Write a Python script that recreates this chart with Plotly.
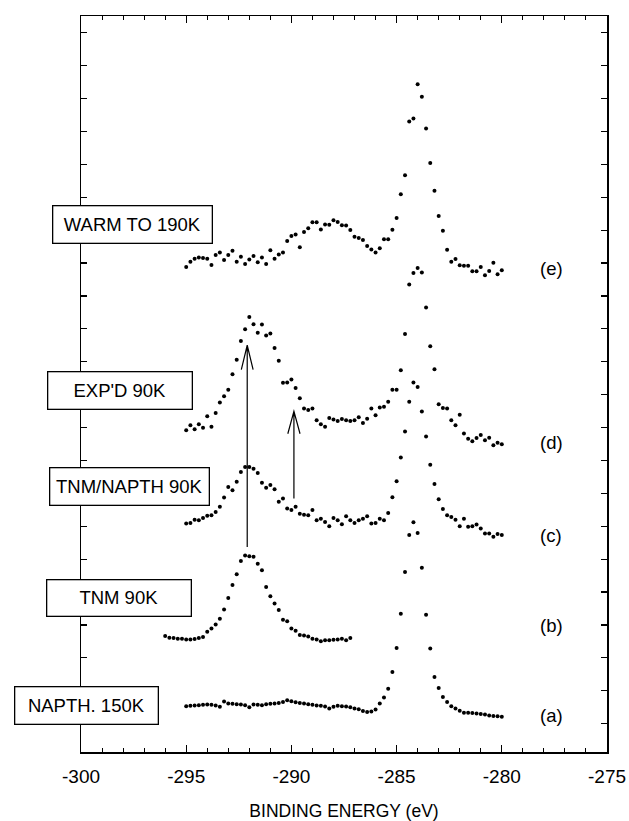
import plotly.graph_objects as go

# ---------------- data (binding energy in eV, intensity in arbitrary units) -------------
grid_main = [round(-295 + 0.2 * i, 1) for i in range(76)]   # -295 .. -280 eV, 0.2 eV step
grid_tnm = [round(-296 + 0.2 * i, 1) for i in range(45)]    # -296 .. -287.2 eV

int_a_napth_150k = [
    0.53, 0.54, 0.55, 0.56, 0.57, 0.58, 0.57, 0.55, 0.51, 0.67,
    0.61, 0.60, 0.59, 0.58, 0.56, 0.50, 0.58, 0.57, 0.56, 0.59,
    0.60, 0.61, 0.63, 0.66, 0.71, 0.68, 0.65, 0.63, 0.61, 0.59,
    0.57, 0.55, 0.54, 0.52, 0.46, 0.51, 0.54, 0.53, 0.52, 0.50,
    0.46, 0.44, 0.38, 0.35, 0.37, 0.43, 0.61, 0.79, 1.06, 1.57,
    2.30, 3.34, 4.61, 5.73, 6.12, 5.79, 4.74, 3.31, 2.28, 1.42,
    1.08, 0.81, 0.66, 0.53, 0.46, 0.39, 0.33, 0.33, 0.32, 0.31,
    0.29, 0.28, 0.25, 0.23, 0.22, 0.21]

int_b_tnm_90k = [
    2.66, 2.61, 2.60, 2.58, 2.58, 2.56, 2.56, 2.57, 2.60, 2.63,
    2.79, 2.89, 3.01, 3.19, 3.47, 3.82, 4.21, 4.54, 4.94, 5.11,
    5.09, 5.07, 4.86, 4.66, 4.15, 3.87, 3.65, 3.45, 3.16, 3.11,
    2.89, 2.82, 2.69, 2.68, 2.65, 2.58, 2.56, 2.50, 2.53, 2.53,
    2.55, 2.56, 2.58, 2.53, 2.60]

int_c_tnm_napth_90k = [
    6.08, 6.10, 6.20, 6.18, 6.25, 6.32, 6.33, 6.43, 6.59, 6.87,
    7.19, 7.09, 7.35, 7.65, 7.80, 7.80, 7.75, 7.62, 7.32, 7.17,
    7.25, 7.12, 6.74, 6.84, 6.54, 6.49, 6.59, 6.38, 6.35, 6.33,
    6.49, 6.18, 6.23, 6.13, 6.00, 6.25, 6.18, 6.06, 6.30, 6.18,
    6.10, 6.18, 6.23, 6.30, 6.08, 6.10, 6.23, 6.18, 6.40, 6.88,
    7.37, 8.09, 8.88, 9.78, 10.37, 10.23, 9.49, 8.73, 7.87, 7.28,
    6.82, 6.52, 6.33, 6.28, 6.20, 6.00, 6.23, 5.98, 6.00, 6.05,
    5.93, 5.78, 5.78, 5.68, 5.76, 5.73]

int_d_expd_90k = [
    8.92, 9.07, 8.95, 9.10, 8.99, 9.34, 9.02, 9.44, 9.76, 9.95,
    10.15, 10.62, 11.06, 11.63, 11.99, 12.36, 12.14, 11.88, 12.13, 11.80,
    11.86, 11.42, 11.03, 10.36, 10.37, 10.46, 10.20, 9.89, 9.58, 9.53,
    9.58, 9.22, 9.10, 9.02, 9.29, 9.24, 9.20, 9.26, 9.22, 9.20,
    9.22, 9.31, 9.14, 9.27, 9.58, 9.37, 9.61, 9.63, 9.78, 10.15,
    10.15, 10.74, 11.84, 13.35, 13.70, 13.85, 13.71, 12.65, 11.47, 10.77,
    9.71, 9.59, 9.58, 9.22, 9.07, 9.39, 8.82, 8.66, 8.58, 8.68,
    8.77, 8.61, 8.69, 8.46, 8.54, 8.49]

int_e_warm_190k = [
    13.88, 14.04, 14.13, 14.17, 14.15, 14.13, 13.94, 14.24, 14.32, 14.09,
    14.24, 14.37, 14.04, 14.19, 13.97, 14.11, 14.21, 14.02, 14.17, 13.97,
    14.39, 14.13, 14.26, 14.32, 14.67, 14.82, 14.87, 14.48, 14.94, 15.06,
    15.24, 15.24, 15.02, 15.17, 15.16, 15.30, 15.25, 15.15, 15.14, 15.00,
    14.80, 14.76, 14.70, 14.52, 14.41, 14.32, 14.45, 14.72, 14.72, 15.01,
    15.37, 16.09, 16.67, 18.30, 18.39, 19.43, 19.05, 18.09, 17.04, 16.20,
    15.43, 14.98, 14.40, 14.04, 14.12, 13.93, 13.92, 13.92, 13.75, 13.75,
    13.88, 13.63, 13.76, 14.01, 13.66, 13.78]

curve_letters = ["(a)", "(b)", "(c)", "(d)", "(e)"]
curve_letter_y = [0.25, 2.99, 5.72, 8.55, 13.84]
letter_x = -277.66

box_labels = ["NAPTH. 150K", "TNM 90K", "TNM/NAPTH 90K", "EXP'D 90K", "WARM TO 190K"]

x_ticks = [-300, -295, -290, -285, -280, -275]
x_tick_text = ["-300", "-295", "-290", "-285", "-280", "-275"]

# ---------------- figure ----------------
FONT = "Liberation Sans, Arial, Helvetica, sans-serif"
fig = go.Figure()

series = [
    (grid_main, int_a_napth_150k),
    (grid_tnm, int_b_tnm_90k),
    (grid_main, int_c_tnm_napth_90k),
    (grid_main, int_d_expd_90k),
    (grid_main, int_e_warm_190k),
]
for (xs, ys), name in zip(series, box_labels):
    fig.add_trace(go.Scatter(x=xs, y=ys, mode="markers", name=name,
                             marker=dict(color="black", size=4, line=dict(width=0)),
                             showlegend=False, cliponaxis=False))

# arrows (open heads)
def arrow(x, y0, y1, hw, hl):
    return dict(type="path", xref="x", yref="y",
                path=f"M {x},{y0} L {x},{y1} M {x-hw},{y1-hl} L {x},{y1} L {x+hw},{y1-hl}",
                line=dict(color="black", width=1.2))

fig.add_shape(arrow(-292.1, 5.37, 11.50, 0.28, 0.74))
fig.add_shape(arrow(-289.88, 6.84, 9.49, 0.29, 0.68))

# curve letters
for txt, yy in zip(curve_letters, curve_letter_y):
    fig.add_annotation(x=letter_x, y=yy, xref="x", yref="y", text=txt, showarrow=False,
                       font=dict(family=FONT, size=18.5, color="black"))

# boxed labels (paper coords: centre x, centre y, width, height in px)
box_geom = [
    (0.0114, 0.0632, 142, 36),
    (0.0722, 0.2092, 143, 35),
    (0.0913, 0.3614, 158, 36),
    (0.0732, 0.4912, 143, 36),
    (0.0970, 0.7167, 158, 36),
]
for txt, (bx, by, bw, bh) in zip(box_labels, box_geom):
    fig.add_annotation(x=bx, y=by, xref="paper", yref="paper", text=txt, showarrow=False,
                       xanchor="center", yanchor="middle", width=bw, height=bh,
                       bgcolor="white", bordercolor="black", borderwidth=1.3, borderpad=0,
                       font=dict(family=FONT, size=18.5, color="black"))

fig.update_layout(
    width=629, height=821,
    margin=dict(l=81, r=22, t=16, b=69, autoexpand=False),
    paper_bgcolor="white", plot_bgcolor="white",
    font=dict(family=FONT, color="black"),
    xaxis=dict(range=[-300, -275], tickvals=x_ticks, ticktext=x_tick_text,
               ticks="inside", ticklen=7, tickwidth=1.2, tickcolor="black",
               minor=dict(dtick=1, tick0=-300, ticks="inside", ticklen=4, tickwidth=1, tickcolor="black"),
               showline=True, linecolor="black", linewidth=1.5, mirror="ticks",
               showgrid=False, zeroline=False, automargin=False,
               tickfont=dict(family=FONT, size=19, color="black"), ticklabelstandoff=7,
               title=dict(text="BINDING ENERGY (eV)", standoff=24,
                          font=dict(family=FONT, size=17.5, color="black"))),
    yaxis=dict(range=[-0.863, 21.508], tick0=0, dtick=1, ticks="inside", ticklen=6,
               tickwidth=1.2, tickcolor="black", showticklabels=False,
               showline=True, linecolor="black", linewidth=1.5, mirror="ticks",
               showgrid=False, zeroline=False, automargin=False),
)

fig.write_html("out.html",
               config={"displayModeBar": False, "staticPlot": True},
               post_script="document.body.style.margin='0';document.body.style.overflow='hidden';")
